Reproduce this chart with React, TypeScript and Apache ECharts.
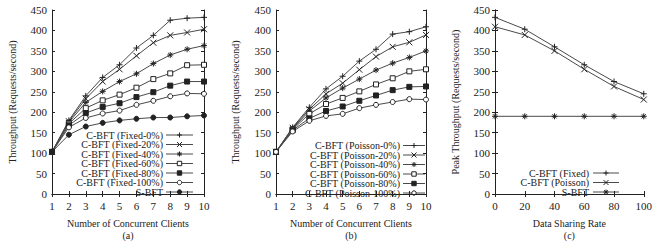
import React, { useEffect, useRef } from "react";
import * as echarts from "echarts";

const clients = [1, 2, 3, 4, 5, 6, 7, 8, 9, 10];
const shareRates = [0, 20, 40, 60, 80, 100];

const fixedNames = ["C-BFT (Fixed-0%)", "C-BFT (Fixed-20%)", "C-BFT (Fixed-40%)", "C-BFT (Fixed-60%)", "C-BFT (Fixed-80%)", "C-BFT (Fixed-100%)", "S-BFT"];
const fixed0 = [103, 180, 240, 285, 316, 357, 388, 425, 430, 432];
const fixed20 = [103, 178, 233, 275, 305, 338, 370, 388, 395, 403];
const fixed40 = [103, 175, 224, 251, 275, 294, 319, 340, 354, 363];
const fixed60 = [103, 172, 210, 229, 243, 260, 281, 295, 315, 316];
const fixed80 = [103, 168, 198, 213, 222, 237, 249, 265, 275, 275];
const fixed100 = [103, 163, 186, 197, 204, 218, 228, 239, 246, 245];
const sbft = [103, 145, 165, 174, 180, 184, 187, 187, 190, 192];

const poissonNames = ["C-BFT (Poisson-0%)", "C-BFT (Poisson-20%)", "C-BFT (Poisson-40%)", "C-BFT (Poisson-60%)", "C-BFT (Poisson-80%)", "C-BFT (Poisson-100%)"];
const poisson0 = [103, 163, 212, 257, 288, 325, 354, 391, 397, 409];
const poisson20 = [103, 162, 207, 245, 271, 304, 336, 360, 371, 389];
const poisson40 = [103, 160, 203, 235, 259, 281, 303, 320, 334, 350];
const poisson60 = [103, 158, 196, 220, 235, 251, 268, 283, 300, 305];
const poisson80 = [103, 156, 185, 203, 214, 228, 241, 254, 262, 263];
const poisson100 = [103, 153, 179, 191, 196, 210, 218, 225, 232, 231];

const peakNames = ["C-BFT (Fixed)", "C-BFT (Poisson)", "S-BFT "];
const peakFixed = [432, 403, 360, 316, 275, 245];
const peakPoisson = [409, 389, 350, 305, 263, 231];
const peakSbft = [190, 190, 190, 190, 190, 190];

const FONT = "'Liberation Serif', 'DejaVu Serif', serif";
const INK = "#222";
const LINE = "#4a4a4a";

const PLUS = "path://M5,0L5,10M0,5L10,5";
const CROSS = "path://M0,0L10,10M10,0L0,10";
const STAR = "path://M5,0L5,10M0,5L10,5M1.5,1.5L8.5,8.5M8.5,1.5L1.5,8.5";

type Kind = "plus" | "cross" | "star" | "osq" | "fsq" | "ocirc" | "fcirc";
type Mk = { kind: Kind; symbol: string; fill: string; size: number };
const markers: Mk[] = [
  { kind: "plus", symbol: PLUS, fill: "none", size: 6 },
  { kind: "cross", symbol: CROSS, fill: "none", size: 6 },
  { kind: "star", symbol: STAR, fill: "none", size: 6 },
  { kind: "osq", symbol: "rect", fill: "#fff", size: 5 },
  { kind: "fsq", symbol: "rect", fill: INK, size: 5 },
  { kind: "ocirc", symbol: "circle", fill: "#fff", size: 5 },
  { kind: "fcirc", symbol: "circle", fill: INK, size: 5 },
];

function mkSeries(name: string, xs: number[], ys: number[], mk: Mk, idx: number) {
  return {
    type: "line",
    name,
    xAxisIndex: idx,
    yAxisIndex: idx,
    data: xs.map((x, i) => [x, ys[i]]),
    symbol: mk.symbol,
    symbolSize: mk.size,
    showSymbol: true,
    lineStyle: { color: LINE, width: 1 },
    itemStyle: { color: mk.fill, borderColor: INK, borderWidth: 1 },
    emphasis: { disabled: true },
  };
}

function seg(x1: number, y1: number, x2: number, y2: number, w = 1) {
  return { type: "line", shape: { x1, y1, x2, y2 }, style: { stroke: INK, lineWidth: w } };
}

function markerGraphic(mk: Mk, cx: number, cy: number): any[] {
  const h = 2.5;
  switch (mk.kind) {
    case "plus":
      return [seg(cx - h, cy, cx + h, cy), seg(cx, cy - h, cx, cy + h)];
    case "cross":
      return [seg(cx - h, cy - h, cx + h, cy + h), seg(cx - h, cy + h, cx + h, cy - h)];
    case "star":
      return [
        seg(cx - h, cy, cx + h, cy), seg(cx, cy - h, cx, cy + h),
        seg(cx - 1.8, cy - 1.8, cx + 1.8, cy + 1.8), seg(cx - 1.8, cy + 1.8, cx + 1.8, cy - 1.8),
      ];
    case "osq":
    case "fsq":
      return [{ type: "rect", shape: { x: cx - 2.2, y: cy - 2.2, width: 4.4, height: 4.4 }, style: { fill: mk.fill, stroke: INK, lineWidth: 1 } }];
    default:
      return [{ type: "circle", shape: { cx, cy, r: 2.2 }, style: { fill: mk.fill, stroke: INK, lineWidth: 1 } }];
  }
}

function legendGraphic(names: string[], mks: Mk[], textRight: number, lineX0: number, lineX1: number, y0: number, step: number) {
  const out: any[] = [];
  names.forEach((n, i) => {
    const y = y0 + i * step;
    out.push({
      type: "text",
      x: textRight,
      y,
      style: { text: n.trim(), fill: INK, font: `10px ${FONT}`, align: "right", verticalAlign: "middle" },
    });
    out.push({ type: "line", shape: { x1: lineX0, y1: y, x2: lineX1, y2: y }, style: { stroke: LINE, lineWidth: 1 } });
    out.push(...markerGraphic(mks[i], (lineX0 + lineX1) / 2, y));
  });
  return out;
}

const grids = [
  { left: 52, top: 10, width: 152, height: 191 },
  { left: 276, top: 10, width: 150, height: 191 },
  { left: 495, top: 10, width: 154, height: 191 },
];

export default function App() {
  const ref = useRef<HTMLDivElement>(null);
  useEffect(() => {
    if (!ref.current) return;
    const chart = echarts.init(ref.current, null, { renderer: "svg" });
    const axisLine = { show: true, lineStyle: { color: INK, width: 1 } };
    const tickIn = { show: true, inside: true, length: 3, lineStyle: { color: INK } };
    const lbl = { color: INK, fontFamily: FONT, fontSize: 11 };
    const nameStyle = { color: INK, fontFamily: FONT, fontSize: 10, lineHeight: 12 };

    const xAxes: any[] = [];
    const yAxes: any[] = [];
    const xConf = [
      { min: 1, max: 10, interval: 1, name: "Number of Concurrent Clients\n(a)" },
      { min: 1, max: 10, interval: 1, name: "Number of Concurrent Clients\n(b)" },
      { min: 0, max: 100, interval: 20, name: "Data Sharing Rate\n(c)" },
    ];
    const yNames = ["Throughput (Requests/second)", "Throughput (Requests/second)", "Peak Throughput (Requests/second)"];
    const yGaps = [34, 35, 34];
    for (let g = 0; g < 3; g++) {
      xAxes.push({
        type: "value", gridIndex: g, position: "bottom", min: xConf[g].min, max: xConf[g].max, interval: xConf[g].interval,
        axisLine, axisTick: tickIn, axisLabel: { ...lbl, margin: 6 }, splitLine: { show: false },
        name: xConf[g].name, nameLocation: "middle", nameGap: 23, nameTextStyle: nameStyle,
      });
      xAxes.push({
        type: "value", gridIndex: g, position: "top", min: xConf[g].min, max: xConf[g].max, interval: xConf[g].interval,
        axisLine, axisTick: tickIn, axisLabel: { show: false }, splitLine: { show: false },
      });
    }
    for (let g = 0; g < 3; g++) {
      yAxes.push({
        type: "value", gridIndex: g, position: "left", min: 0, max: 450, interval: 50,
        axisLine, axisTick: tickIn, axisLabel: { ...lbl, margin: 5 }, splitLine: { show: false },
        name: yNames[g], nameLocation: "middle", nameGap: yGaps[g], nameTextStyle: nameStyle,
      });
      yAxes.push({
        type: "value", gridIndex: g, position: "right", min: 0, max: 450, interval: 50,
        axisLine, axisTick: tickIn, axisLabel: { show: false }, splitLine: { show: false },
      });
    }

    const fixedData = [fixed0, fixed20, fixed40, fixed60, fixed80, fixed100, sbft];
    const poissonData = [poisson0, poisson20, poisson40, poisson60, poisson80, poisson100];
    const series: any[] = [];
    fixedData.forEach((d, i) => series.push(mkSeries(fixedNames[i], clients, d, markers[i], 0)));
    poissonData.forEach((d, i) => series.push(mkSeries(poissonNames[i], clients, d, markers[i], 2)));
    const peakData = [peakFixed, peakPoisson, peakSbft];
    const peakMk = [markers[0], markers[1], markers[2]];
    peakData.forEach((d, i) => series.push(mkSeries(peakNames[i], shareRates, d, peakMk[i], 4)));

    const graphic = [
      ...legendGraphic(fixedNames, markers, 163, 166, 193, 135, 9.5),
      ...legendGraphic(poissonNames, markers, 400, 403, 425, 145.5, 9.5),
      ...legendGraphic(peakNames, peakMk, 589, 593, 619, 173, 9.5),
    ];

    chart.setOption({
      animation: false,
      backgroundColor: "#fff",
      grid: grids,
      xAxis: xAxes,
      yAxis: yAxes,
      graphic,
      series,
    });
    return () => chart.dispose();
  }, []);
  return <div ref={ref} style={{ width: 655, height: 246, position: "absolute", left: 0, top: 0 }} />;
}
